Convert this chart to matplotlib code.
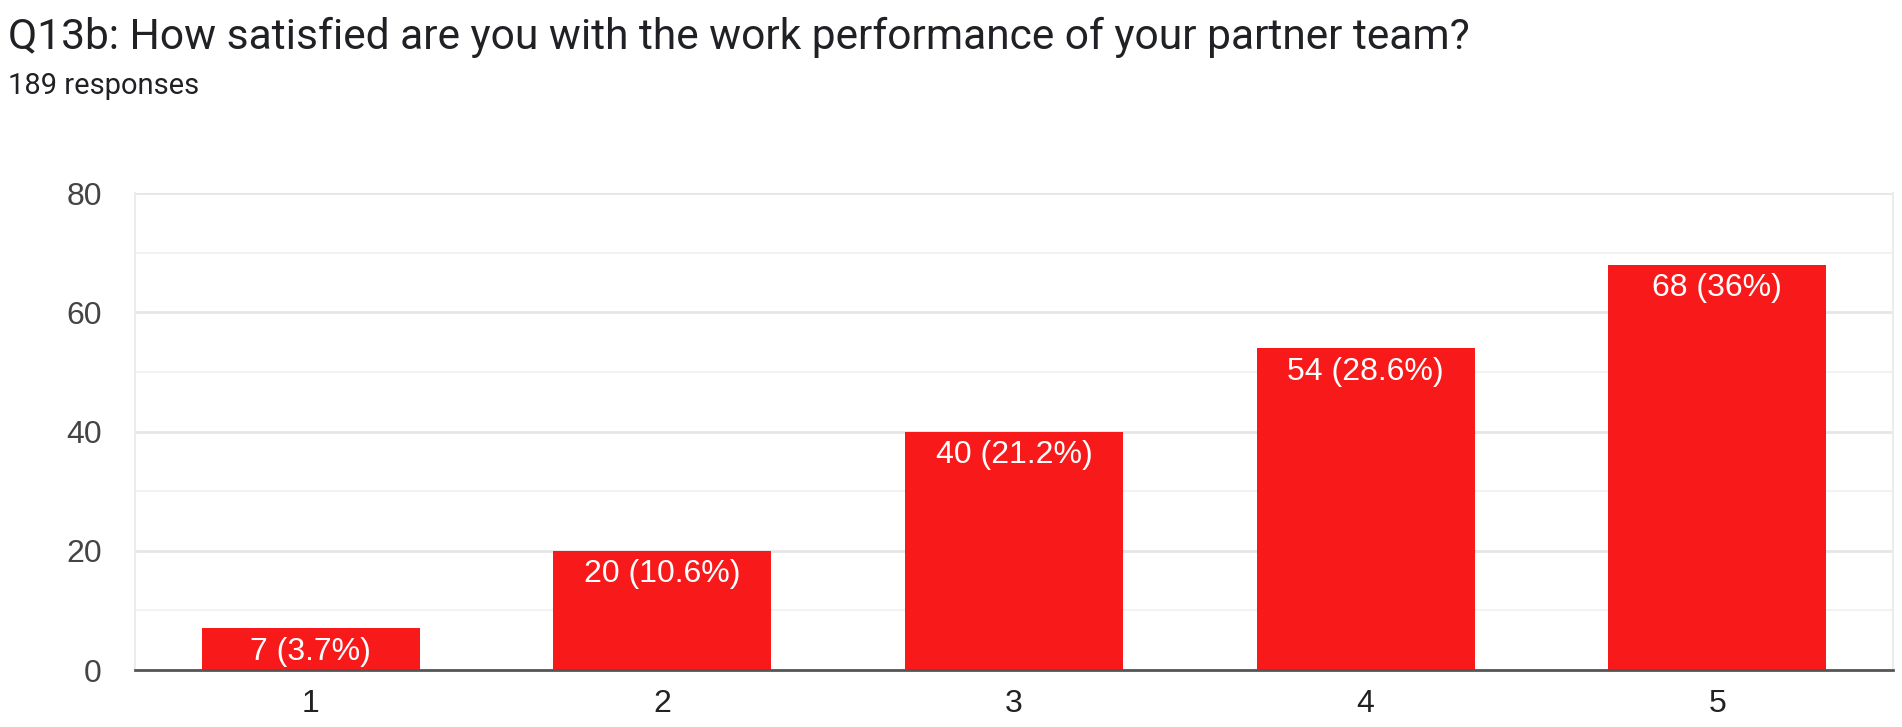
import matplotlib
matplotlib.use("Agg")
import matplotlib.pyplot as plt
from matplotlib.ticker import MultipleLocator

plt.rcParams['font.family'] = ['Liberation Sans', 'DejaVu Sans']

categories = ["1", "2", "3", "4", "5"]
counts = [7, 20, 40, 54, 68]
percents = ["3.7%", "10.6%", "21.2%", "28.6%", "36%"]
title = "Q13b: How satisfied are you with the work performance of your partner team?"
subtitle = "189 responses"

bar_color = "#f81a1a"

fig = plt.figure(figsize=(19.02, 7.27), dpi=100)
ax = fig.add_axes([0.071, 0.0784, 0.9243, 0.6561])

x = range(len(categories))
bars = ax.bar(x, counts, width=0.62, color=bar_color, zorder=3)

for b, c, p in zip(bars, counts, percents):
    ax.annotate(f"{c} ({p})", (b.get_x() + b.get_width() / 2, b.get_height()),
                xytext=(0, -17), textcoords="offset points",
                ha="center", va="center", color="white", fontsize=23, zorder=4)

ax.set_xlim(-0.5, 4.5)
ax.set_ylim(0, 80)
ax.set_xticks(list(x))
ax.set_xticklabels(categories)
ax.yaxis.set_major_locator(MultipleLocator(20))
ax.yaxis.set_minor_locator(MultipleLocator(10))
ax.grid(axis="y", which="major", color="#e6e6e6", linewidth=2, zorder=0)
ax.grid(axis="y", which="minor", color="#f2f2f2", linewidth=1.5, zorder=0)

for side in ["left", "right", "top"]:
    ax.spines[side].set_color("#ececec")
    ax.spines[side].set_linewidth(1.5)
ax.spines["top"].set_visible(False)
ax.spines["bottom"].set_color("#555555")
ax.spines["bottom"].set_linewidth(2)
ax.spines["bottom"].set_zorder(5)

ax.tick_params(axis="both", which="both", length=0)
ax.tick_params(axis="y", labelsize=23, labelcolor="#444444", pad=24)
ax.tick_params(axis="x", labelsize=23, labelcolor="#222222", pad=14)

fig.text(0.004, 1 - 37 / 727, title, fontsize=30.6, color="#202124",
         va="center", ha="left", family=["Roboto", "DejaVu Sans"])
fig.text(0.004, 1 - 86 / 727, subtitle, fontsize=21, color="#202124",
         va="center", ha="left", family=["Roboto", "DejaVu Sans"])

fig.savefig("out.png", dpi=100)
